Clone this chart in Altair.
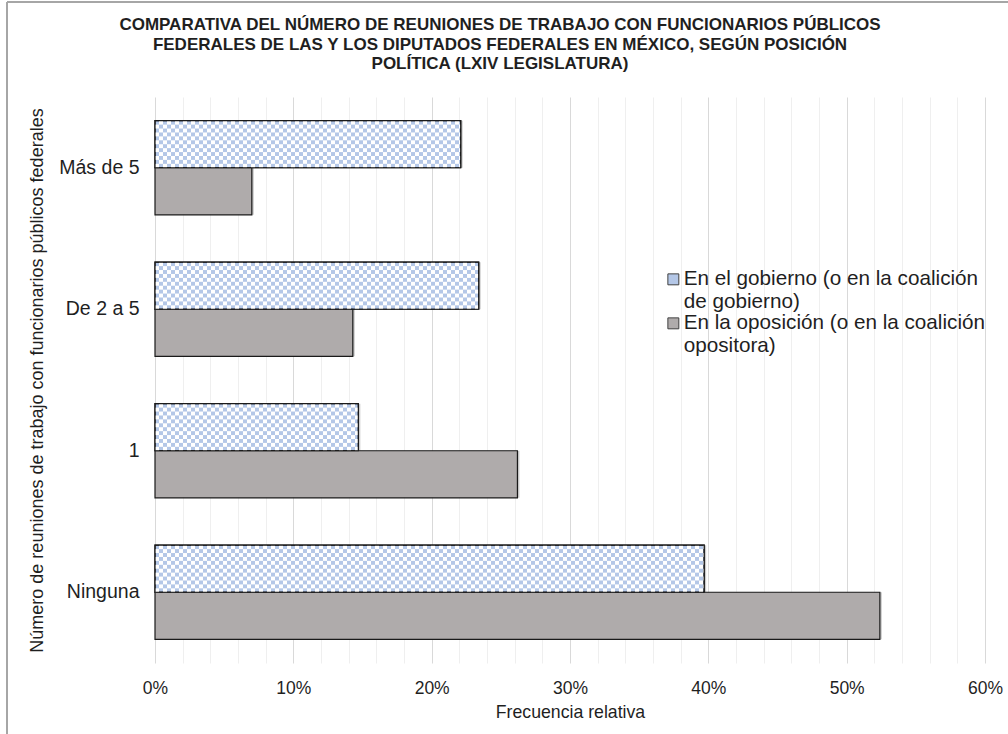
import altair as alt
import pandas as pd

# Categories (top to bottom) and the two political positions
CATEGORIES = ["Más de 5", "De 2 a 5", "1", "Ninguna"]
SERIES = [
    "En el gobierno (o en la coalición de gobierno)",
    "En la oposición (o en la coalición opositora)",
]
LEGEND_LINES = [
    ["En el gobierno (o en la coalición", "de gobierno)"],
    ["En la oposición (o en la coalición", "opositora)"],
]
GOBIERNO = [0.221, 0.234, 0.147, 0.397]
OPOSICION = [0.070, 0.143, 0.262, 0.524]

X_GRID = [round(i * 0.02, 2) for i in range(31)]

TITLE = [
    "COMPARATIVA DEL NÚMERO DE REUNIONES DE TRABAJO CON FUNCIONARIOS PÚBLICOS",
    "FEDERALES DE LAS Y LOS DIPUTADOS FEDERALES EN MÉXICO, SEGÚN POSICIÓN",
    "POLÍTICA (LXIV LEGISLATURA)",
]

FONT = "Liberation Sans"
W, H = 830, 566
CELL = 0.6 / W * 4  # checker cell width in data units (about 4 px)
ROWS = 12           # checker rows per bar

rows = []
for cat, g, o in zip(CATEGORIES, GOBIERNO, OPOSICION):
    rows.append({"cat": cat, "serie": SERIES[0], "value": g})
    rows.append({"cat": cat, "serie": SERIES[1], "value": o})
df = pd.DataFrame(rows)

grid_color = {
    "condition": {"test": "round(datum.value * 100) % 10 == 0", "value": "#d9d9d9"},
    "value": "#efefef",
}

x_axis = alt.Axis(
    values=X_GRID,
    format=".0%",
    labelExpr="round(datum.value * 100) % 10 == 0 ? datum.label : ''",
    labelFlush=False,
    grid=True,
    gridColor=grid_color,
    gridWidth=1,
    domain=False,
    ticks=False,
    labelFontSize=17.5,
    labelPadding=16,
    labelColor="#1f1f1f",
    labelFont=FONT,
    title="Frecuencia relativa",
    titleFontSize=17.7,
    titleFontWeight="normal",
    titleFont=FONT,
    titleColor="#1f1f1f",
    titlePadding=7,
)
x_scale = alt.Scale(domain=[0, 0.6], nice=False, zero=True)

y_enc = alt.Y(
    "cat:N",
    sort=CATEGORIES,
    scale=alt.Scale(domain=CATEGORIES, paddingInner=0.335, paddingOuter=0.1675),
    axis=alt.Axis(
        domain=False,
        ticks=False,
        grid=False,
        labelFontSize=19.5,
        labelFont=FONT,
        labelColor="#1f1f1f",
        labelPadding=16,
        title="Número de reuniones de trabajo con funcionarios públicos federales",
        titleFontSize=18,
        titleFontWeight="normal",
        titleFont=FONT,
        titleColor="#1f1f1f",
        titlePadding=12,
    ),
)

serie_offset = alt.YOffset(
    "serie:N",
    sort=SERIES,
    scale=alt.Scale(domain=SERIES, paddingInner=0, paddingOuter=0),
)

legend_expr = (
    f"datum.label == '{SERIES[0]}' ? {LEGEND_LINES[0]} : {LEGEND_LINES[1]}"
)

# Soft drop shadow under every bar
shadow = alt.Chart().mark_bar(
    color="#000000", opacity=0.2, xOffset=2, x2Offset=2, yOffset=2.5, y2Offset=2.5
).encode(
    x=alt.X("value:Q", scale=x_scale, axis=x_axis),
    y=y_enc,
    yOffset=serie_offset,
)

bars = alt.Chart().mark_bar(stroke="#1a1a1a", strokeWidth=1.2).encode(
    x=alt.X("value:Q", scale=x_scale, axis=x_axis),
    y=y_enc,
    yOffset=serie_offset,
    fill=alt.Fill(
        "serie:N",
        scale=alt.Scale(domain=SERIES, range=["#b4c7e7", "#afabab"]),
        legend=alt.Legend(
            title=None,
            orient="none",
            legendX=508,
            legendY=172,
            symbolType="square",
            symbolSize=120,
            symbolStrokeColor="#404040",
            symbolStrokeWidth=1,
            labelFontSize=20.7,
            labelFont=FONT,
            labelColor="#1f1f1f",
            labelLimit=400,
            labelExpr=legend_expr,
            labelOffset=0,
            rowPadding=0,
        ),
    ),
)

# White cells of the checker pattern on the government bars
checker = (
    alt.Chart()
    .transform_filter(alt.datum.serie == SERIES[0])
    .transform_calculate(col=f"sequence(0, ceil(datum.value / {CELL}))")
    .transform_flatten(["col"])
    .transform_calculate(row=f"sequence(0, {ROWS})")
    .transform_flatten(["row"])
    .transform_filter("(datum.col + datum.row) % 2 == 1")
    .transform_calculate(
        x0=f"datum.col * {CELL}",
        x1=f"min((datum.col + 1) * {CELL}, datum.value)",
    )
    .mark_rect(fill="white", strokeWidth=0)
    .encode(
        x=alt.X("x0:Q", scale=x_scale, axis=x_axis),
        x2="x1:Q",
        y=y_enc,
        yOffset=alt.YOffset(
            "row:O",
            scale=alt.Scale(domain=list(range(2 * ROWS)), paddingInner=0, paddingOuter=0),
        ),
    )
)

outline = (
    alt.Chart()
    .transform_filter(alt.datum.serie == SERIES[0])
    .mark_bar(fillOpacity=0, stroke="#1a1a1a", strokeWidth=1.2)
    .encode(
        x=alt.X("value:Q", scale=x_scale, axis=x_axis),
        y=y_enc,
        yOffset=serie_offset,
    )
)

# Frame around the whole figure
frame_left = alt.Chart().mark_rule(color="#a6a6a6", strokeWidth=1.5, clip=False).encode(
    x=alt.value(-148), y=alt.value(-95), y2=alt.value(H + 80)
)
frame_top = alt.Chart().mark_rule(color="#a6a6a6", strokeWidth=1.5, clip=False).encode(
    x=alt.value(-148), x2=alt.value(W + 40), y=alt.value(-95)
)

chart = (
    alt.layer(shadow, bars, checker, outline, frame_left, frame_top, data=df)
    .resolve_scale(yOffset="independent")
    .properties(
        width=W,
        height=H,
        padding={"left": 155, "top": 97, "right": 23, "bottom": 71},
        autosize=alt.AutoSizeParams(type="none"),
        background="white",
        title=alt.TitleParams(
            TITLE,
            fontSize=17,
            fontWeight="bold",
            font=FONT,
            color="#1f1f1f",
            anchor="middle",
            frame="group",
            dx=-70,
            offset=-72,
            lineHeight=19.5,
        ),
    )
    .configure_view(stroke=None)
)

chart.save("out.html", embed_options={"renderer": "svg", "actions": False})
